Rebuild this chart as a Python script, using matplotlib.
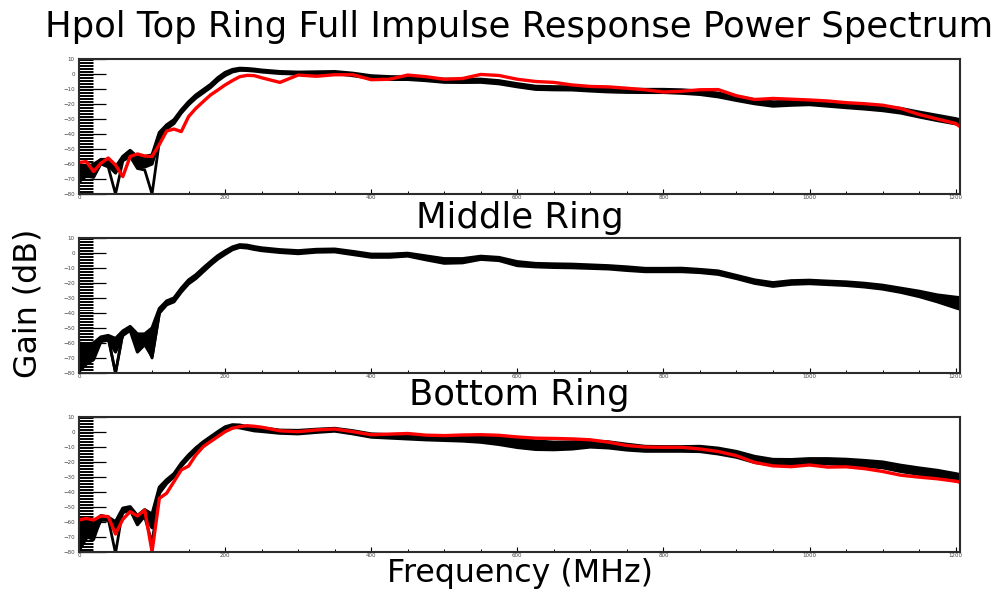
import matplotlib
matplotlib.use("Agg")
import matplotlib.pyplot as plt
from matplotlib.ticker import MultipleLocator, FixedLocator

plt.rcParams['font.family'] = ['DejaVu Sans']

# Frequency grid (MHz): fine below 250 MHz, coarser above
freq = [0, 10, 20, 30, 40, 50, 60, 70, 80, 90, 100, 110, 120, 130, 140, 150,
        160, 170, 180, 190, 200, 210, 220, 230, 240, 250,
        275, 300, 325, 350, 375, 400, 425, 450, 475, 500, 525, 550, 575, 600,
        625, 650, 675, 700, 725, 750, 775, 800, 825, 850, 875, 900, 925, 950,
        975, 1000, 1025, 1050, 1075, 1100, 1125, 1150, 1175, 1200, 1210]
freq_low = [0, 10, 20, 30, 40, 50, 60, 70, 80, 90, 100, 110, 120, 130]

# ---- Top ring ----
top_hi = [-61, -63, -61, -57, -57, -62, -55, -51, -56, -55, -54, -39, -34, -30.5,
          -24, -18.5, -14, -10.5, -7, -2.5, 1, 3, 3.8, 3.6, 3.2, 2.6,
          1.6, 1.2, 1.4, 1.6, 0.5, -1.2, -1.8, -2.0, -2.6, -3.5, -3.6, -3.5, -4.5, -6.5,
          -8.2, -8.5, -8.6, -9.3, -9.9, -10.2, -10.3, -10.3, -10.6, -11.4, -12.8, -15.0,
          -17.2, -18.6, -18.2, -18.0, -19.0, -20.0, -20.7, -21.6, -23.0, -25.4, -27.6,
          -29.8, -31.0]
top_lo = [-70, -67, -68, -59, -61, -66, -57, -54, -62, -62, -60, -44, -36.5, -33,
          -26, -20.5, -16, -12.5, -9, -4.5, -1, 1.4, 2.5, 2.4, 2.0, 1.4,
          0.4, 0.0, 0.2, 0.4, -1.1, -2.8, -3.6, -3.6, -4.4, -5.5, -5.6, -5.5, -6.5, -8.5,
          -10.2, -10.5, -10.6, -11.3, -11.9, -12.2, -12.3, -12.3, -12.8, -13.6, -15.2,
          -17.6, -19.8, -21.4, -20.8, -20.4, -21.4, -22.4, -23.3, -24.4, -26.0, -28.6,
          -31.0, -33.2, -35.0]
top_spikes = [
    [-72, -68, -69, -60, -62, -80, -58, -55, -63, -64, -80, -45, -37, -32],
    [-60, -62, -60, -57, -57, -65, -55, -51, -55, -55, -55, -40, -34, -31],
]
top_red = [-59, -58.4, -65, -59.5, -56, -60.7, -68.4, -55, -53.3, -54.7, -55, -47, -38,
           -36.7, -38.4, -28.4, -22.9, -18.4, -14, -10.7, -7.3, -4.4, -1.8, -0.9, -1.1,
           -2.5, -5.6, -0.7, -1.5, -0.5, -0.5, -3.8, -3.5, -0.7, -1.8, -3.5, -3.0, -0.3,
           -1.0, -3.5, -5.0, -5.6, -7.3, -8.3, -8.6, -9.5, -10.5, -12.0, -11.5, -10.5,
           -10.4, -14.5, -17.0, -16.3, -16.8, -17.3, -18.0, -19.1, -19.8, -20.8, -23.0,
           -27.0, -30.0, -33.0, -36.5]

# ---- Middle ring ----
mid_hi = [-60, -61, -60, -56, -55, -57, -52, -49, -54, -54, -50, -37, -32, -30,
          -23.5, -18, -14.5, -10, -5.8, -1.8, 1.3, 4.0, 5.5, 5.2, 4.2, 3.4,
          2.2, 1.5, 2.4, 2.6, 1.0, -0.8, -0.8, -0.2, -2.0, -3.8, -3.8, -2.2, -3.0, -5.8,
          -7.0, -7.3, -7.5, -8.0, -8.5, -9.3, -10.3, -10.3, -10.2, -11.0, -12.0, -15.0,
          -18.0, -19.8, -18.5, -18.2, -18.8, -19.3, -20.2, -21.5, -23.5, -25.5, -28.0,
          -29.5, -30.0]
mid_lo = [-79, -74, -71, -59, -58, -66, -55, -51.5, -66, -61, -69, -40, -34.5, -32.5,
          -26, -20.5, -17, -12.5, -8, -4, -0.8, 2.2, 3.8, 3.4, 2.4, 1.6,
          0.4, -0.4, 0.6, 0.8, -1.0, -2.8, -2.8, -2.0, -4.5, -6.8, -6.5, -4.2, -5.0, -8.4,
          -9.2, -9.6, -9.8, -10.2, -10.6, -11.6, -12.4, -12.4, -12.4, -13.0, -14.2, -17.0,
          -20.2, -22.2, -20.8, -20.4, -21.0, -21.6, -22.6, -24.0, -26.2, -29.0, -32.5,
          -36.5, -38.0]
mid_spikes = [
    [-78, -72, -70, -58, -57, -80, -54, -50, -63, -58, -70, -40, -33, -31],
    [-62, -63, -62, -57, -56, -80, -53, -50, -56, -55, -52, -38, -33, -31],
    [-72, -66, -65, -58, -57, -64, -54, -51, -60, -60, -62, -39, -33, -31],
]

# ---- Bottom ring ----
bot_hi = [-59, -59, -60, -56, -57, -60, -51, -50, -56, -52, -55, -37, -32, -28,
          -21, -15.5, -10.8, -6.8, -3.4, 0, 3.2, 4.6, 4.4, 3.4, 2.8, 2.6,
          1.0, 0.8, 1.6, 2.2, 0.6, -1.5, -2.0, -2.6, -3.0, -3.2, -3.4, -3.2, -3.6, -4.8,
          -6.2, -7.0, -6.8, -6.2, -6.8, -8.4, -9.8, -10.0, -10.0, -9.8, -11.0, -13.2,
          -16.5, -18.5, -18.6, -18.0, -18.0, -18.4, -19.2, -20.2, -22.4, -24.2, -25.8,
          -28.0, -29.0]
bot_lo = [-79, -71, -69, -59, -59, -66, -54, -52, -62, -56, -64, -41, -34.5, -30,
          -23, -17.6, -12.8, -8.8, -5.4, -2.2, 1.4, 3.0, 2.6, 1.6, 0.6, 0.2,
          -1.0, -1.4, -0.4, 0.4, -1.4, -3.6, -4.2, -4.8, -5.4, -5.8, -6.2, -7.0, -8.5,
          -10.5, -11.8, -12.0, -11.5, -10.2, -10.8, -12.2, -13.0, -13.0, -13.0, -13.2,
          -14.8, -17.0, -20.5, -22.0, -21.8, -21.2, -21.4, -22.0, -23.0, -24.0, -26.5,
          -28.4, -30.2, -32.8, -34.0]
bot_spikes = [
    [-79, -70, -72, -58, -58, -81, -52, -51, -60, -57, -74, -40, -33, -29],
    [-62, -60, -61, -56, -57, -63, -52, -51, -57, -54, -58, -38, -33, -29],
]
bot_red = [-58.9, -57.8, -58.9, -56.2, -56.6, -68.2, -58.4, -53.3, -56.2, -52.2, -80,
           -44.4, -41, -33.3, -25.5, -22.9, -15.5, -10, -6.6, -3.3, 0, 2.3, 3.4, 4.0,
           3.6, 3.0, 0.6, 0.0, 1.2, 1.8, 0.0, -2.0, -1.6, -1.2, -2.3, -2.6, -2.2, -2.0,
           -2.4, -3.5, -4.3, -4.5, -4.8, -5.4, -7.0, -9.2, -10.2, -10.4, -10.4, -11.5,
           -13.2, -16.0, -20.5, -22.8, -23.3, -22.2, -23.6, -23.4, -24.6, -26.5, -29.0,
           -30.3, -31.4, -33.0, -34.0]

x_ticks = [0, 200, 400, 600, 800, 1000, 1200]
y_ticks = [10, 0, -10, -20, -30, -40, -50, -60, -70, -80]

panels = [
    (top_hi, top_lo, top_spikes, top_red),
    (mid_hi, mid_lo, mid_spikes, None),
    (bot_hi, bot_lo, bot_spikes, bot_red),
]

W, H = 997, 592
fig = plt.figure(figsize=(W / 100, H / 100), dpi=100)

left = 79 / W
width = (960 - 79) / W
tops = [59, 238, 416.7]
ph = 135

frame_col = '#2b2b2b'
for (hi, lo, spikes, red), ytop in zip(panels, tops):
    ax = fig.add_axes([left, 1 - (ytop + ph) / H, width, ph / H])
    ax.fill_between(freq, lo, hi, color='black', lw=0)
    ax.plot(freq, hi, color='black', lw=2.3)
    ax.plot(freq, lo, color='black', lw=2.3)
    for s in spikes:
        ax.plot(freq_low, s, color='black', lw=2.0)
    if red is not None:
        ax.plot(freq, red, color='#ff0000', lw=2.4)
    ax.set_xlim(0, 1206)
    ax.set_ylim(-80, 10)
    for sp in ax.spines.values():
        sp.set_color(frame_col)
        sp.set_linewidth(1.5)
    ax.xaxis.set_major_locator(FixedLocator(x_ticks))
    ax.xaxis.set_minor_locator(MultipleLocator(50))
    ax.yaxis.set_major_locator(FixedLocator(y_ticks))
    ax.yaxis.set_minor_locator(MultipleLocator(1))
    ax.tick_params(axis='y', which='major', direction='in', length=19.5, width=0.9,
                   color='black', labelsize=4, labelcolor='#444444', pad=3)
    ax.tick_params(axis='y', which='minor', direction='in', length=10, width=0.7,
                   color='black')
    ax.tick_params(axis='x', which='major', direction='in', length=3.5, width=0.8,
                   color='black', labelsize=4, labelcolor='#444444', pad=0.8)
    ax.tick_params(axis='x', which='minor', direction='in', length=2, width=0.7,
                   color='black')
    ax.tick_params(right=False, top=False, which='both')

cx = (79 + 960) / 2 / W
fig.text(cx, 1 - 37 / H, 'Hpol Top Ring Full Impulse Response Power Spectrum',
         ha='center', va='baseline', fontsize=25.5)
fig.text(cx, 1 - 228 / H, 'Middle Ring', ha='center', va='baseline', fontsize=25.5)
fig.text(cx, 1 - 405 / H, 'Bottom Ring', ha='center', va='baseline', fontsize=25.5)
fig.text(cx, 1 - 582 / H, 'Frequency (MHz)', ha='center', va='baseline', fontsize=22.8)
fig.text(28 / W, 1 - 303 / H, 'Gain (dB)', ha='center', va='center', fontsize=22.8,
         rotation=90)

fig.savefig('out.png', dpi=100)
